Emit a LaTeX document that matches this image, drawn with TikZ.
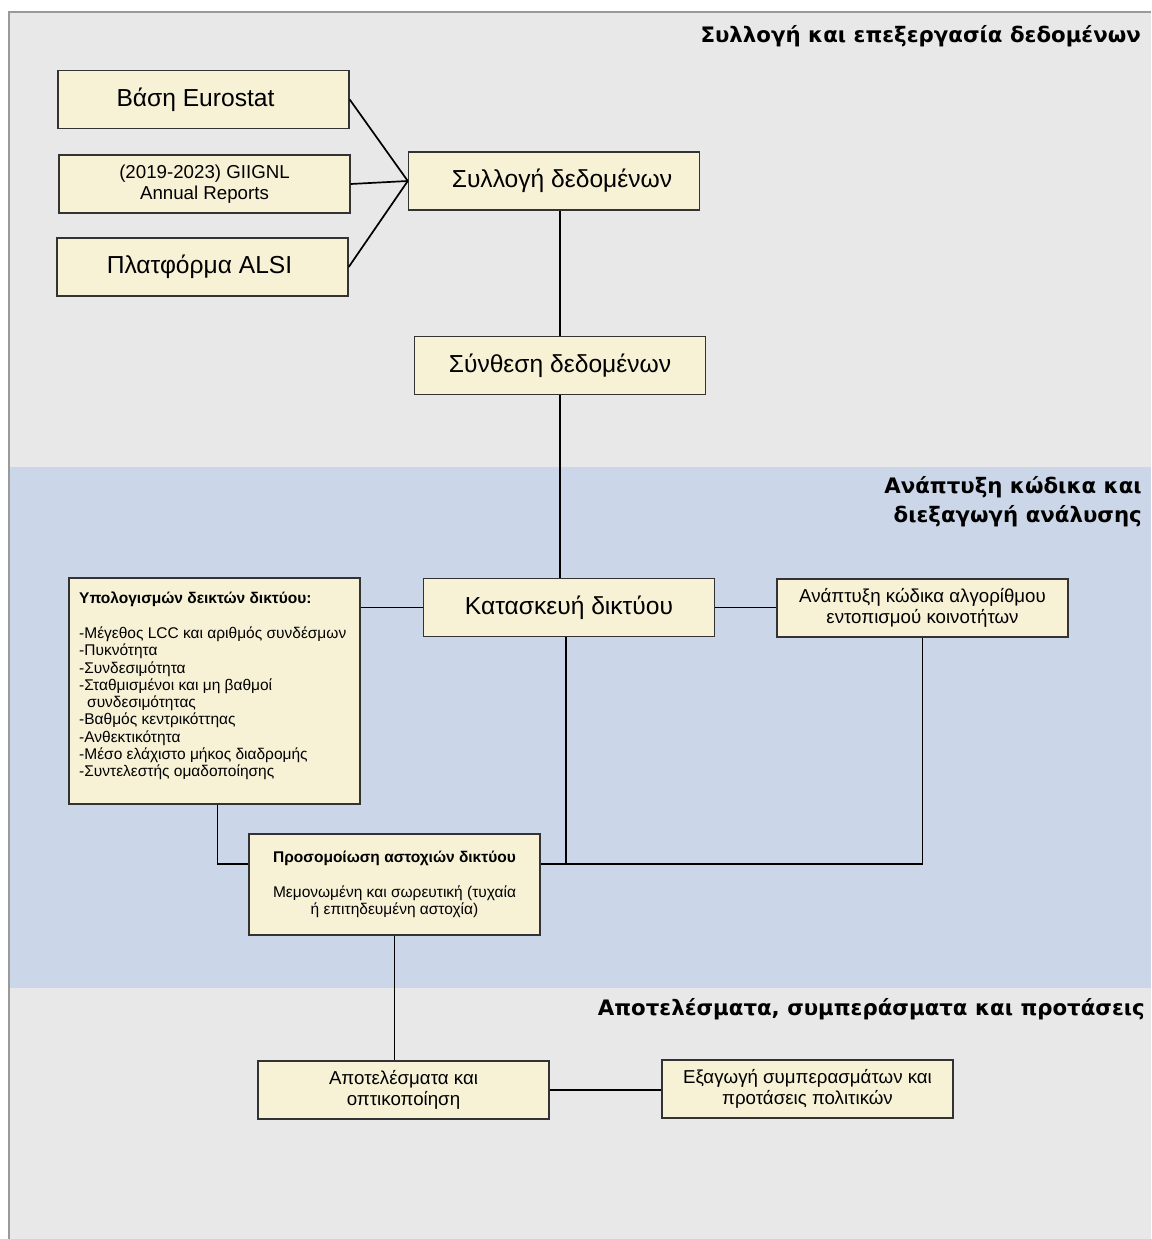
\documentclass[tikz,border=0pt]{standalone}
\usepackage{fontspec}
\setmainfont{Liberation Sans}
\newfontfamily\hdrfont{DejaVu Sans}
\usetikzlibrary{calc}
\definecolor{graybg}{HTML}{E8E8E8}
\definecolor{bluebg}{HTML}{CBD7E8}
\definecolor{boxfill}{HTML}{F7F1D6}
\definecolor{boxline}{HTML}{333333}
\definecolor{frameline}{HTML}{9A9A9A}
\tikzset{
  box/.style={draw=boxline, fill=boxfill, line width=1.4pt, minimum width=291pt, minimum height=58pt, inner sep=0pt, align=center},
  bigtxt/.style={font=\fontsize{24.6}{29}\selectfont},
  midtxt/.style={font=\fontsize{18.7}{21.5}\selectfont},
  smalltxt/.style={font=\fontsize{15.5}{17.3}\selectfont},
  hdr/.style={font=\hdrfont\bfseries\fontsize{21.3}{29}\selectfont, inner sep=0pt, align=right},
  conn/.style={draw=black, line width=1.7pt}
}
\begin{document}
\begin{tikzpicture}[x=1pt,y=-1pt]
\useasboundingbox (0,0) rectangle (1151,1239);
\fill[white] (0,0) rectangle (1151,1239);
\fill[graybg] (9,12) rectangle (1151,1239);
\fill[bluebg] (9,467) rectangle (1151,988);
\draw[frameline, line width=1.5pt] (9,1239) -- (9,12) -- (1151,12);

% headers
\node[hdr, anchor=base east] (h1) at (1141,43) {Συλλογή και επεξεργασία δεδομένων};
\node[hdr, anchor=north east] (h2) at (1142,476) {Ανάπτυξη κώδικα και\\διεξαγωγή ανάλυσης};
\node[hdr, anchor=base east] (h3) at (1145,1015) {Αποτελέσματα, συμπεράσματα και προτάσεις};

% boxes
\node[box, bigtxt] (eurostat) at (203.5,99.5) {Βάση Eurostat\hspace*{16pt}};
\node[box, midtxt] (giignl) at (204.5,184) {(2019-2023) GIIGNL\\Annual Reports};
\node[box, bigtxt] (alsi) at (202.5,267) {Πλατφόρμα ALSI\hspace*{6pt}};
\node[box, bigtxt] (syllogi) at (554,181) {\hspace*{16pt}Συλλογή δεδομένων};
\node[box, bigtxt] (synthesi) at (560,365.5) {Σύνθεση δεδομένων};
\node[box, bigtxt] (kataskeui) at (569,607.5) {Κατασκευή δικτύου};
\node[box, midtxt] (anaptyxi) at (922.5,608) {Ανάπτυξη κώδικα αλγορίθμου\\εντοπισμού κοινοτήτων};
\node[box, minimum height=226pt] (list) at (214.5,691) {};
\node[smalltxt, anchor=north west, inner sep=0pt, align=left] (listtxt) at (79,592)
  {\textbf{Υπολογισμών δεικτών δικτύου:}\\[17.3pt]
   -Μέγεθος LCC και αριθμός συνδέσμων\\
   -Πυκνότητα\\
   -Συνδεσιμότητα\\
   -Σταθμισμένοι και μη βαθμοί\\
   \hspace*{8pt}συνδεσιμότητας\\
   -Βαθμός κεντρικόττηας\\
   -Ανθεκτικότητα\\
   -Μέσο ελάχιστο μήκος διαδρομής\\
   -Συντελεστής ομαδοποίησης};
\node[box, smalltxt, minimum height=101pt] (sim) at (394.5,884.5)
  {\textbf{Προσομοίωση αστοχιών δικτύου}\\[17pt]
   Μεμονωμένη και σωρευτική (τυχαία\\ή επιτηδευμένη αστοχία)};
\node[box, midtxt] (apot) at (403.5,1090) {Αποτελέσματα και\\οπτικοποίηση};
\node[box, midtxt] (exag) at (807.5,1089) {Εξαγωγή συμπερασμάτων και\\προτάσεις πολιτικών};

\coordinate (sr) at ([yshift=20.5pt]sim.east);
\coordinate (sl) at ([yshift=20.5pt]sim.west);

% connectors
\draw[conn] (eurostat.east) -- (syllogi.west);
\draw[conn] (giignl.east) -- (syllogi.west);
\draw[conn] (alsi.east) -- (syllogi.west);
\draw[conn] (syllogi.south -| synthesi.north) -- (synthesi.north);
\draw[conn] (synthesi.south) -- (synthesi.south |- kataskeui.north);
\draw[conn] (list.east |- kataskeui.west) -- (kataskeui.west);
\draw[conn] (kataskeui.east) -- (kataskeui.east -| anaptyxi.west);
\draw[conn] ([xshift=-3pt]kataskeui.south) -- ([xshift=-3pt]kataskeui.south |- sr);
\draw[conn] (anaptyxi.south) |- (sr);
\draw[conn] ([xshift=3pt]list.south) |- (sl);
\draw[conn] (sim.south) -- (sim.south |- apot.north);
\draw[conn] (apot.east) -- (apot.east -| exag.west);
\end{tikzpicture}
\end{document}
